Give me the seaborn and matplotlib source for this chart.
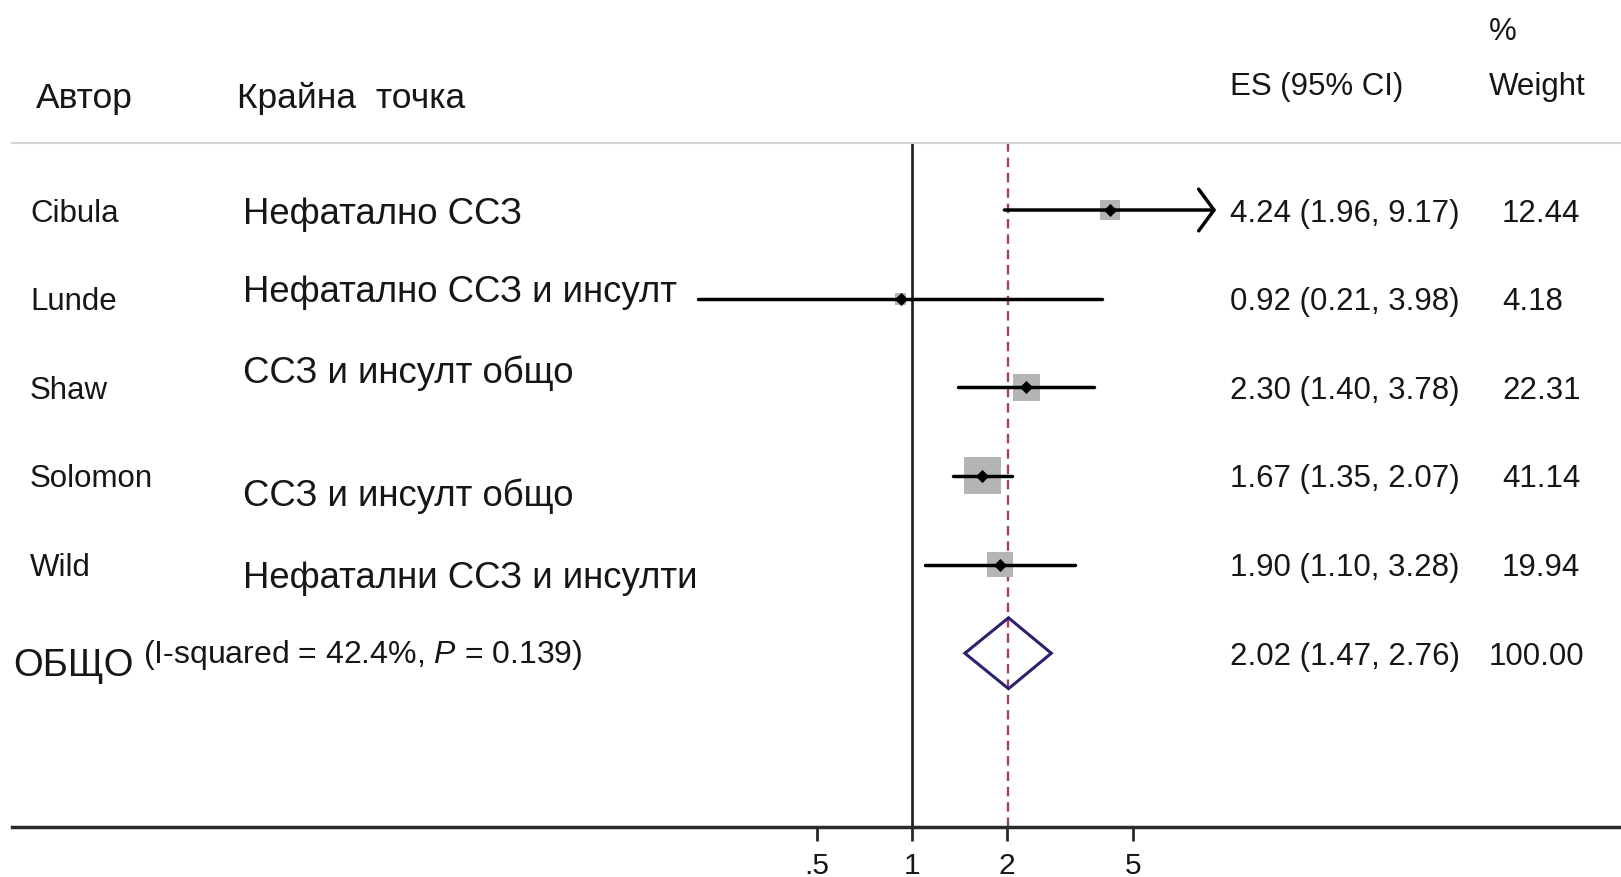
import numpy as np
import matplotlib
matplotlib.use("Agg")
import matplotlib.pyplot as plt
import matplotlib.transforms as mtransforms
import seaborn as sns

# Study rows
authors = ["Cibula", "Lunde", "Shaw", "Solomon", "Wild"]
endpoints = ["Нефатално ССЗ", "Нефатално ССЗ и инсулт", "ССЗ и инсулт общо",
             "ССЗ и инсулт общо", "Нефатални ССЗ и инсулти"]
es = [4.24, 0.92, 2.30, 1.67, 1.90]
ci_low = [1.96, 0.21, 1.40, 1.35, 1.10]
ci_high = [9.17, 3.98, 3.78, 2.07, 3.28]
weights = [12.44, 4.18, 22.31, 41.14, 19.94]

# Pooled estimate
overall_label = "ОБЩО"
overall_note = "(I-squared = 42.4%, $\\mathit{P}$ = 0.139)"
overall_es = 2.02
overall_low = 1.47
overall_high = 2.76
overall_weight = 100.00

# Axis
xticks = [0.5, 1, 2, 5]
xtick_labels = [".5", "1", "2", "5"]
arrow_cut = 8  # CIs beyond this get an arrow head

#Style
sns.set_theme(style="white")
plt.rcParams['font.family'] = ['Liberation Sans', 'DejaVu Sans']
plt.rcParams['mathtext.fontset'] = 'custom'
plt.rcParams['mathtext.it'] = 'Liberation Sans:italic'
plt.rcParams['mathtext.rm'] = 'Liberation Sans'

W, H = 1621, 877
TXT = "#161616"

fig = plt.figure(figsize=(W / 100, H / 100), dpi=100)
fig.patch.set_facecolor("white")
ax = fig.add_axes([12.4 / W, 1 - 827 / H, 1 - 12.4 / W, (827 - 143) / H])
ax.set_facecolor("white")

ax.set_xscale("log")
ax.set_xlim(10 ** ((12.4 - 912) / 316), 10 ** ((1621 - 912) / 316))
ax.set_ylim(6.96, -0.756)

rows = np.arange(len(authors))
overall_row = len(authors)

#Reference lines
ax.axvline(1, color="#1a1a1a", lw=1.9, zorder=1)
ax.axvline(overall_es, color="#a3415f", lw=1.7, ls=(0, (4, 2.5)), zorder=1)

#Weight boxes
sns.scatterplot(x=es, y=rows, s=np.array(weights) * 17.25, marker="s",
                color="#b5b5b5", linewidth=0, ax=ax, legend=False, zorder=2)

#Confidence intervals
for i in rows:
    if ci_high[i] > arrow_cut:
        ax.annotate("", xy=(ci_high[i], i), xytext=(ci_low[i], i),
                    arrowprops=dict(arrowstyle="->,head_length=0.55,head_width=0.75",
                                    lw=2.5, color="black", mutation_scale=20,
                                    shrinkA=0, shrinkB=0), zorder=3)
    else:
        ax.plot([ci_low[i], ci_high[i]], [i, i], color="black", lw=2.5, zorder=3)

#Point estimates
sns.scatterplot(x=es, y=rows, marker="D", s=45, color="black",
                linewidth=0, ax=ax, legend=False, zorder=4)

#Pooled diamond
ax.fill([overall_low, overall_es, overall_high, overall_es],
        [overall_row, overall_row - 0.4, overall_row, overall_row + 0.4],
        fill=False, edgecolor="#2e2270", lw=2.2, zorder=4)

#Axes styling
for s in ["left", "right"]:
    ax.spines[s].set_visible(False)
ax.spines["top"].set_color("#d2d2d2")
ax.spines["top"].set_linewidth(1.5)
ax.spines["bottom"].set_color("#2a2a2a")
ax.spines["bottom"].set_linewidth(2.5)
ax.minorticks_off()
ax.set_xticks(xticks)
ax.set_xticklabels(xtick_labels)
ax.set_yticks([])
ax.tick_params(axis="x", bottom=True, direction="out", length=10, width=2,
               colors="#2a2a2a", labelsize=21.5, pad=8, labelcolor=TXT)

#Row text
trans = mtransforms.blended_transform_factory(fig.transFigure, ax.transData)
endpoint_shift = [0.0, -0.12, -0.2, 0.18, 0.11]
VA = "center_baseline"
for i in rows:
    ax.text(30 / W, i, authors[i], transform=trans, fontsize=22.5,
            va=VA, ha="left", color=TXT)
    ax.text(243 / W, i + endpoint_shift[i], endpoints[i], transform=trans,
            fontsize=26.3, va=VA, ha="left", color=TXT)
    ax.text(1230 / W, i, f"{es[i]:.2f} ({ci_low[i]:.2f}, {ci_high[i]:.2f})",
            transform=trans, fontsize=22.5, va=VA, ha="left", color=TXT)
    ax.text(1502 / W, i, f"{weights[i]:.2f}", transform=trans, fontsize=22.5,
            va=VA, ha="left", color=TXT)

ax.text(13.5 / W, overall_row + 0.1, overall_label, transform=trans,
        fontsize=27.5, va=VA, ha="left", color=TXT)
ax.text(143 / W, overall_row - 0.03, overall_note, transform=trans,
        fontsize=23, va=VA, ha="left", color=TXT)
ax.text(1230 / W, overall_row,
        f"{overall_es:.2f} ({overall_low:.2f}, {overall_high:.2f})",
        transform=trans, fontsize=22.5, va=VA, ha="left", color=TXT)
ax.text(1489 / W, overall_row, f"{overall_weight:.2f}", transform=trans,
        fontsize=22.5, va=VA, ha="left", color=TXT)

#Headers
fig.text(36 / W, 1 - 95 / H, "Автор", fontsize=25.5, va=VA, color=TXT)
fig.text(237 / W, 1 - 95 / H, "Крайна  точка", fontsize=25.5, va=VA, color=TXT)
fig.text(1230 / W, 1 - 83 / H, "ES (95% CI)", fontsize=22.5, va=VA, color=TXT)
fig.text(1489 / W, 1 - 29 / H, "%", fontsize=22.5, va=VA, color=TXT)
fig.text(1489 / W, 1 - 83 / H, "Weight", fontsize=22.5, va=VA, color=TXT)

fig.savefig("out.png", dpi=100, facecolor="white")
